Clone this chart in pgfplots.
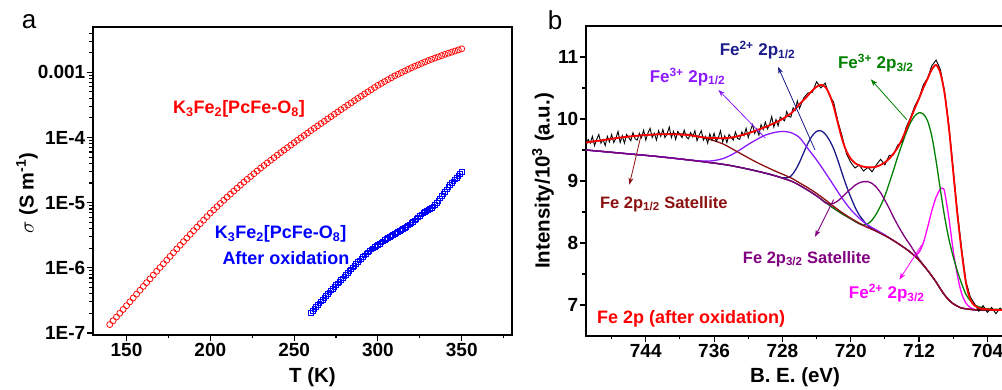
\documentclass[border=0pt]{standalone}
\usepackage{fontspec}
\setmainfont{Liberation Sans}
\usepackage{pgfplots}
\pgfplotsset{compat=1.18}
\usetikzlibrary{arrows.meta}
\definecolor{cnavy}{HTML}{1C1C8C}
\definecolor{cviolet}{HTML}{8C1AFF}
\definecolor{cpurple}{HTML}{800080}
\definecolor{cbrown}{HTML}{8B1010}
\definecolor{cgreen}{HTML}{008000}
\definecolor{cmag}{HTML}{FF00FF}
\definecolor{cred}{HTML}{FF0000}
\definecolor{cblue}{HTML}{0000FF}
\pgfplotsset{
  myaxis/.style={
    scale only axis,
    anchor=south west,
    tick align=outside,
    xtick pos=left, ytick pos=left,
    major tick length=6pt, minor tick length=3.5pt,
    axis line style={line width=1.3pt},
    every tick/.style={line width=1.1pt, black},
    tick label style={font=\bfseries\fontsize{19}{19}\selectfont},
    xticklabel style={inner sep=2pt},
    yticklabel style={inner sep=1.5pt},
    /pgf/number format/assume math mode=true,
  }
}
\begin{document}
\begin{tikzpicture}
\useasboundingbox (0pt,0pt) rectangle (1002pt,390pt);
% ---------------- panel a ----------------
\begin{axis}[myaxis,
  at={(93pt,55pt)}, width=419pt, height=308pt,
  xmin=130, xmax=380, ymin=-7.03, ymax=-2.305,
  xtick={150,200,250,300,350}, minor xtick={175,225,275,325,375},
  ytick={-7,-6,-5,-4,-3}, yticklabels={1E-7,1E-6,1E-5,1E-4,0.001},
  minor ytick={-6.699,-6.523,-6.398,-6.301,-6.222,-6.155,-6.097,-6.046,
               -5.699,-5.523,-5.398,-5.301,-5.222,-5.155,-5.097,-5.046,
               -4.699,-4.523,-4.398,-4.301,-4.222,-4.155,-4.097,-4.046,
               -3.699,-3.523,-3.398,-3.301,-3.222,-3.155,-3.097,-3.046,
               -2.699,-2.523,-2.398},
]
\addplot[cred, only marks, mark=o, mark size=3pt, line width=0.75pt] coordinates {
(140,-6.870)(142,-6.812)(144,-6.754)(146,-6.696)(148,-6.638)(150,-6.580)
(152,-6.521)(154,-6.462)(156,-6.403)(158,-6.344)(160,-6.285)
(162,-6.227)(164,-6.169)(166,-6.111)(168,-6.053)(170,-5.995)
(172,-5.938)(174,-5.881)(176,-5.824)(178,-5.767)(180,-5.710)
(182,-5.654)(184,-5.598)(186,-5.542)(188,-5.486)(190,-5.430)
(192,-5.376)(194,-5.322)(196,-5.268)(198,-5.214)(200,-5.160)
(202,-5.111)(204,-5.062)(206,-5.013)(208,-4.964)(210,-4.915)
(212,-4.869)(214,-4.823)(216,-4.777)(218,-4.731)(220,-4.685)
(222,-4.642)(224,-4.599)(226,-4.556)(228,-4.513)(230,-4.470)
(232,-4.430)(234,-4.390)(236,-4.350)(238,-4.310)(240,-4.270)
(242,-4.232)(244,-4.194)(246,-4.156)(248,-4.118)(250,-4.080)
(252,-4.043)(254,-4.006)(256,-3.969)(258,-3.932)(260,-3.895)
(262,-3.859)(264,-3.823)(266,-3.787)(268,-3.751)(270,-3.715)
(272,-3.680)(274,-3.644)(276,-3.609)(278,-3.573)(280,-3.538)
(282,-3.504)(284,-3.469)(286,-3.435)(288,-3.400)(290,-3.366)
(292,-3.333)(294,-3.300)(296,-3.266)(298,-3.233)(300,-3.200)
(302,-3.171)(304,-3.142)(306,-3.113)(308,-3.084)(310,-3.055)
(312,-3.030)(314,-3.005)(316,-2.980)(318,-2.955)(320,-2.930)
(322,-2.908)(324,-2.886)(326,-2.864)(328,-2.842)(330,-2.820)
(332,-2.801)(334,-2.782)(336,-2.763)(338,-2.744)(340,-2.725)
(342,-2.708)(344,-2.691)(346,-2.674)(348,-2.657)(350,-2.640)
};
\addplot[cblue, only marks, mark=square, mark size=2.3pt, line width=0.7pt] coordinates {
(260,-6.690)(261,-6.660)(262,-6.630)(263,-6.600)(264,-6.570)(265,-6.543)(266,-6.515)(267,-6.488)(268,-6.460)(269,-6.430)
(270,-6.400)(271,-6.373)(272,-6.345)(273,-6.318)(274,-6.290)(275,-6.265)(276,-6.240)(277,-6.213)(278,-6.185)(279,-6.158)
(280,-6.130)(281,-6.103)(282,-6.075)(283,-6.048)(284,-6.020)(285,-5.993)(286,-5.965)(287,-5.938)(288,-5.910)(289,-5.885)
(290,-5.860)(291,-5.835)(292,-5.810)(293,-5.785)(294,-5.760)(295,-5.738)(296,-5.715)(297,-5.698)(298,-5.680)(299,-5.663)
(300,-5.645)(301,-5.628)(302,-5.610)(303,-5.593)(304,-5.575)(305,-5.558)(306,-5.540)(307,-5.525)(308,-5.510)(309,-5.495)
(310,-5.480)(311,-5.465)(312,-5.450)(313,-5.435)(314,-5.420)(315,-5.403)(316,-5.385)(317,-5.368)(318,-5.350)(319,-5.330)
(320,-5.310)(321,-5.290)(322,-5.270)(323,-5.248)(324,-5.225)(325,-5.203)(326,-5.180)(327,-5.160)(328,-5.140)(329,-5.125)
(330,-5.110)(331,-5.095)(332,-5.080)(333,-5.055)(334,-5.030)(335,-5.000)(336,-4.970)(337,-4.935)(338,-4.900)(339,-4.865)
(340,-4.830)(341,-4.795)(342,-4.760)(343,-4.730)(344,-4.700)(345,-4.673)(346,-4.645)(347,-4.618)(348,-4.590)(349,-4.560)
(350,-4.530)
};
\end{axis}
% ---------------- panel b ----------------
\begin{axis}[myaxis,
  at={(586pt,54pt)}, width=422.7pt, height=310pt,
  x dir=reverse, xmin=701.5, xmax=751, ymin=6.5, ymax=11.5,
  xtick={704,712,720,728,736,744}, minor xtick={708,716,724,732,740,748},
  ytick={7,8,9,10,11}, minor ytick={7.5,8.5,9.5,10.5},
]
% magenta Fe2+ 2p3/2
\addplot[cmag, line width=1.3pt, smooth] coordinates {
(751,9.50)(747,9.45)(743,9.40)(739,9.34)(735,9.27)(733,9.22)(731,9.16)(729,9.09)(727,9.00)(726,8.93)(725,8.85)(724,8.76)(723,8.66)(722,8.56)(721,8.47)(720,8.39)(719,8.31)(718,8.25)(717,8.19)(716,8.12)(715,8.04)(714,7.95)(713,7.85)
(712.5,7.80)(712,7.85)(711.5,8.00)(711,8.25)(710.5,8.52)(710,8.74)(709.5,8.87)(709.2,8.88)(709,8.82)(708.5,8.40)(708,7.88)(707.5,7.47)(707,7.18)(706.5,7.03)(706,6.96)(705.5,6.93)(705,6.92)(701.5,6.92)};
% green Fe3+ 2p3/2
\addplot[cgreen, line width=1.3pt, smooth] coordinates {
(751,9.50)(747,9.45)(743,9.40)(739,9.34)(735,9.27)(733,9.22)(731,9.16)(729,9.09)(727,9.00)(726,8.93)(725,8.85)(724,8.76)(723,8.66)(722,8.56)(721,8.47)(720,8.39)(719,8.31)
(718.5,8.29)(718,8.31)(717.5,8.37)(717,8.47)(716.5,8.60)(716,8.76)(715.5,8.96)(715,9.17)(714.5,9.39)(714,9.59)(713.5,9.78)(713,9.94)(712.5,10.05)(712,10.10)(711.5,10.08)(711,9.97)(710.5,9.72)(710,9.32)(709.5,8.86)(709,8.42)(708.5,8.06)(708,7.78)(707.5,7.54)(707,7.34)(706.5,7.17)(706,7.07)(705.5,7.00)(705,6.97)(704,6.94)(703,6.93)(701.5,6.93)};
% navy Fe2+ 2p1/2
\addplot[cnavy, line width=1.3pt, smooth] coordinates {
(751,9.50)(747,9.45)(743,9.40)(739,9.34)(735,9.27)(733,9.22)(731,9.16)(729,9.09)
(728,9.05)(727.5,9.05)(727,9.08)(726.5,9.17)(726,9.30)(725.5,9.46)(725,9.61)(724.5,9.73)(724,9.80)(723.5,9.81)(723,9.76)(722.5,9.66)(722,9.52)(721.5,9.33)(721,9.12)(720.5,8.92)(720,8.74)(719.5,8.58)(719,8.45)(718.5,8.36)(718,8.28)(717,8.19)
(716,8.12)(715,8.04)(714,7.95)(713,7.85)(712,7.72)(711,7.56)(710,7.37)(709.5,7.26)(709,7.16)(708.5,7.08)(708,7.02)(707.5,6.98)(707,6.95)(706,6.93)(705,6.92)(701.5,6.92)};
% violet Fe3+ 2p1/2
\addplot[cviolet, line width=1.3pt, smooth] coordinates {
(751,9.50)(747,9.45)(743,9.40)(739,9.34)(737,9.32)(736,9.33)(735,9.36)(734,9.42)(733,9.50)(732,9.59)(731,9.67)(730,9.74)(729,9.78)(728,9.80)(727,9.78)(726,9.70)(725,9.52)(724,9.34)(723,9.14)(722,8.93)(721,8.72)(720,8.54)(719,8.40)(718,8.29)(717,8.21)(716,8.13)
(715,8.04)(714,7.95)(713,7.85)(712,7.72)(711,7.56)(710,7.37)(709.5,7.26)(709,7.16)(708.5,7.08)(708,7.02)(707.5,6.98)(707,6.95)(706,6.93)(705,6.92)(701.5,6.92)};
% purple Fe 2p3/2 satellite
\addplot[cpurple, line width=1.3pt, smooth] coordinates {
(751,9.50)(747,9.45)(743,9.40)(739,9.34)(735,9.27)(733,9.22)(731,9.16)(729,9.09)(727,9.00)(726,8.93)(725,8.85)(724,8.76)
(723.5,8.71)(723,8.65)(722.5,8.63)(722,8.64)(721.5,8.68)(721,8.74)(720.5,8.81)(720,8.87)(719.5,8.93)(719,8.97)(718.5,8.99)(718,8.99)(717.5,8.96)(717,8.90)(716.5,8.81)(716,8.69)(715.5,8.56)(715,8.42)(714.5,8.29)(714,8.17)(713.5,8.06)(713,7.96)(712.5,7.85)(712,7.74)(711,7.56)
(710,7.37)(709.5,7.26)(709,7.16)(708.5,7.08)(708,7.02)(707.5,6.98)(707,6.95)(706,6.93)(705,6.92)(701.5,6.92)};
% brown Fe 2p1/2 satellite
\addplot[cbrown, line width=1.3pt, smooth] coordinates {
(751,9.62)(749,9.66)(747,9.70)(745,9.73)(743,9.75)(741,9.76)(739,9.75)(737,9.69)(735,9.60)(733,9.45)(731,9.30)(729,9.17)(727,9.05)(726,8.97)(725,8.89)(724,8.80)(723,8.70)(722,8.59)(721,8.49)(720,8.40)(719,8.32)(718,8.25)
(717,8.19)(716,8.12)(715,8.04)(714,7.95)(713,7.85)(712,7.72)(711,7.56)(710,7.37)(709.5,7.26)(709,7.16)(708.5,7.08)(708,7.02)(707.5,6.98)(707,6.95)(706,6.93)(705,6.92)(701.5,6.92)};
% measured spectrum
\addplot[black, line width=0.9pt] coordinates {
(751.00,9.56)(750.75,9.67)(750.50,9.61)(750.25,9.72)(750.00,9.57)(749.75,9.67)(749.50,9.75)(749.25,9.61)(749.00,9.67)(748.75,9.57)(748.50,9.72)(748.25,9.63)(748.00,9.75)(747.75,9.62)(747.50,9.69)(747.25,9.80)(747.00,9.62)(746.75,9.73)(746.50,9.61)(746.25,9.75)(746.00,9.70)(745.75,9.65)(745.50,9.78)(745.25,9.68)(745.00,9.66)(744.75,9.77)(744.50,9.70)(744.25,9.82)(744.00,9.66)(743.75,9.77)(743.50,9.85)(743.25,9.70)(743.00,9.77)(742.75,9.66)(742.50,9.81)(742.25,9.72)(742.00,9.83)(741.75,9.70)(741.50,9.76)(741.25,9.87)(741.00,9.70)(740.75,9.80)(740.50,9.67)(740.25,9.80)(740.00,9.75)(739.75,9.70)(739.50,9.82)(739.25,9.71)(739.00,9.68)(738.75,9.78)(738.50,9.71)(738.25,9.81)(738.00,9.65)(737.75,9.74)(737.50,9.81)(737.25,9.66)(737.00,9.72)(736.75,9.61)(736.50,9.76)(736.25,9.66)(736.00,9.77)(735.75,9.64)(735.50,9.70)(735.25,9.81)(735.00,9.63)(734.75,9.73)(734.50,9.62)(734.25,9.75)(734.00,9.70)(733.75,9.66)(733.50,9.79)(733.25,9.69)(733.00,9.67)(732.75,9.79)(732.50,9.73)(732.25,9.85)(732.00,9.70)(731.75,9.81)(731.50,9.91)(731.25,9.77)(731.00,9.84)(730.75,9.74)(730.50,9.91)(730.25,9.83)(730.00,9.95)(729.75,9.84)(729.50,9.91)(729.25,10.04)(729.00,9.87)(728.75,9.99)(728.50,9.89)(728.25,10.03)(728.00,10.00)(727.75,9.97)(727.50,10.12)(727.25,10.04)(727.00,10.03)(726.75,10.18)(726.50,10.14)(726.25,10.29)(726.00,10.17)
(725.5,10.34)(725,10.42)(724.5,10.43)(724,10.60)(723.5,10.50)(723,10.58)(722.5,10.38)(722,10.27)(721.5,9.96)(721,9.72)(720.5,9.44)(720,9.30)(719.5,9.21)(719,9.26)(718.5,9.16)(718,9.22)(717.5,9.15)(717,9.26)(716.5,9.35)(716,9.26)(715.5,9.41)(715,9.42)(714.5,9.58)(714,9.63)(713.5,9.87)(713,10.02)(712.5,10.21)(712,10.34)(711.5,10.55)(711,10.66)(710.5,10.86)(710,10.95)(709.5,10.80)(709,10.44)(708.5,9.90)(708,9.21)(707.5,8.50)(707,7.90)(706.5,7.38)(706,7.13)(705.5,7.02)(705,6.90)(704.5,6.99)(704,6.88)(703.5,6.96)(703,6.86)(702.5,6.95)(702,6.87)(701.5,6.93)};
% envelope fit
\addplot[cred, line width=1.8pt, smooth] coordinates {
(751,9.62)(749,9.66)(747,9.70)(745,9.73)(743,9.75)(741,9.755)(739,9.74)(737,9.70)(735,9.69)(734,9.70)(733,9.73)(732,9.77)(731,9.82)(730,9.87)(729,9.93)(728,10.00)(727,10.09)(726.5,10.16)(726,10.24)(725.5,10.31)(725,10.38)(724.5,10.46)(724,10.52)(723.5,10.55)(723,10.52)(722.5,10.40)(722,10.20)(721.5,9.93)(721,9.67)(720.5,9.48)(720,9.36)(719.5,9.29)(719,9.25)(718.5,9.23)(718,9.22)(717.5,9.22)(717,9.23)(716.5,9.26)(716,9.30)(715.5,9.36)(715,9.44)(714.5,9.54)(714,9.67)(713.5,9.83)(713,10.00)(712.5,10.17)(712,10.33)(711.5,10.50)(711,10.65)(710.5,10.80)(710,10.87)(709.5,10.74)(709,10.40)(708.5,9.85)(708,9.15)(707.5,8.45)(707,7.85)(706.5,7.35)(706,7.09)(705.5,6.99)(705,6.95)(704,6.93)(703,6.92)(701.5,6.92)};
% arrows
\draw[cnavy, line width=0.8pt, -{Stealth[length=7pt,width=5pt]}] (axis cs:724.18,9.50) -- (axis cs:728.51,10.84);
\draw[cviolet, line width=0.8pt, -{Stealth[length=7pt,width=5pt]}] (axis cs:730.0,9.69) -- (axis cs:735.5,10.47);
\draw[cgreen, line width=0.8pt, -{Stealth[length=7pt,width=5pt]}] (axis cs:713.44,9.99) -- (axis cs:717.65,10.64);
\draw[cbrown, line width=0.8pt, -{Stealth[length=7pt,width=5pt]}] (axis cs:744.55,9.74) -- (axis cs:745.92,8.94);
\draw[cpurple, line width=0.8pt, -{Stealth[length=7pt,width=5pt]}] (axis cs:722.0,8.70) -- (axis cs:724.18,8.10);
\draw[cmag, line width=0.8pt, -{Stealth[length=7pt,width=5pt]}] (axis cs:711.68,7.97) -- (axis cs:714.30,7.41);
\end{axis}
% ---------------- texts ----------------
\node[font=\fontsize{26}{26}\selectfont] at (29pt,368pt) {a};
\node[font=\fontsize{26}{26}\selectfont] at (555pt,370pt) {b};
\node[rotate=90, font=\bfseries\fontsize{20}{20}\selectfont] at (27pt,197pt) {{\fontsize{22}{22}\selectfont$\sigma$} (S m\textsuperscript{-1})};
\node[anchor=base, font=\bfseries\fontsize{20.5}{20.5}\selectfont] at (312.5pt,7pt) {T (K)};
\node[anchor=base, font=\bfseries\fontsize{20.5}{20.5}\selectfont] at (795pt,7pt) {B. E. (eV)};
\node[rotate=90, font=\bfseries\fontsize{20.5}{20.5}\selectfont] at (543pt,209pt) {Intensity/10\textsuperscript{3} (a.u.)};
\node[anchor=base, text=cred, font=\bfseries\fontsize{18}{18}\selectfont] at (239pt,276.7pt) {K\textsubscript{3}Fe\textsubscript{2}[PcFe-O\textsubscript{8}]};
\node[anchor=base, text=cblue, font=\bfseries\fontsize{18}{18}\selectfont] at (280.7pt,151.7pt) {K\textsubscript{3}Fe\textsubscript{2}[PcFe-O\textsubscript{8}]};
\node[anchor=base, text=cblue, font=\bfseries\fontsize{18}{18}\selectfont] at (286pt,125pt) {After oxidation};
\node[anchor=base, text=cnavy, font=\bfseries\fontsize{17}{17}\selectfont] at (757.5pt,334pt) {Fe\textsuperscript{2+} 2p\textsubscript{1/2}};
\node[anchor=base, text=cviolet, font=\bfseries\fontsize{17}{17}\selectfont] at (687.5pt,307.7pt) {Fe\textsuperscript{3+} 2p\textsubscript{1/2}};
\node[anchor=base, text=cgreen, font=\bfseries\fontsize{17}{17}\selectfont] at (875.8pt,321pt) {Fe\textsuperscript{3+} 2p\textsubscript{3/2}};
\node[anchor=base, text=cbrown, font=\bfseries\fontsize{16.5}{16.5}\selectfont] at (663.8pt,181.7pt) {Fe 2p\textsubscript{1/2} Satellite};
\node[anchor=base, text=cpurple, font=\bfseries\fontsize{16.5}{16.5}\selectfont] at (806.7pt,126.7pt) {Fe 2p\textsubscript{3/2} Satellite};
\node[anchor=base, text=cmag, font=\bfseries\fontsize{17}{17}\selectfont] at (886.7pt,91pt) {Fe\textsuperscript{2+} 2p\textsubscript{3/2}};
\node[anchor=base, text=cred, font=\bfseries\fontsize{18}{18}\selectfont] at (691.2pt,66pt) {Fe 2p (after oxidation)};
\end{tikzpicture}
\end{document}
